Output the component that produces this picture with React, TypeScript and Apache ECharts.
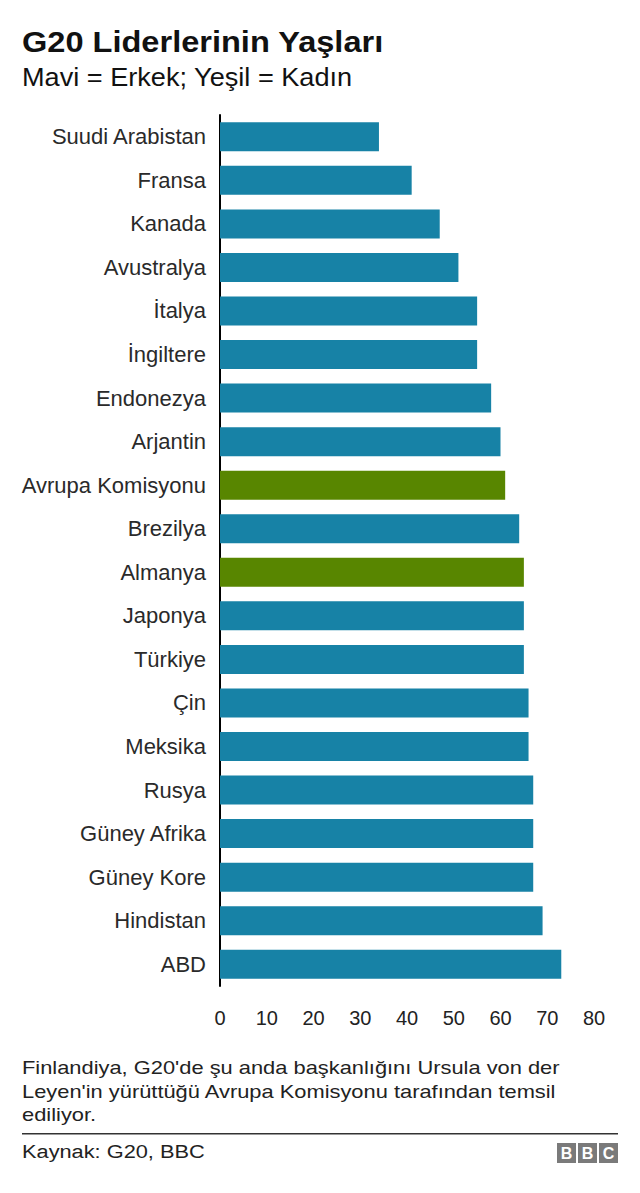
import React, { useEffect, useRef } from "react";
import * as echarts from "echarts";

const categories = [
  "Suudi Arabistan", "Fransa", "Kanada", "Avustralya", "İtalya", "İngiltere",
  "Endonezya", "Arjantin", "Avrupa Komisyonu", "Brezilya", "Almanya", "Japonya",
  "Türkiye", "Çin", "Meksika", "Rusya", "Güney Afrika", "Güney Kore", "Hindistan", "ABD",
];
const ages = [34, 41, 47, 51, 55, 55, 58, 60, 61, 64, 65, 65, 65, 66, 66, 67, 67, 67, 69, 73];
const womenLed = ["Avrupa Komisyonu", "Almanya"];
const xTicks = [0, 80, 10];

const BLUE = "#1782a6";
const GREEN = "#588600";
const FONT = "'Liberation Sans', Arial, Helvetica, sans-serif";

export default function App() {
  const ref = useRef<HTMLDivElement>(null);
  useEffect(() => {
    document.body.style.margin = "0";
    if (!ref.current) return;
    const chart = echarts.init(ref.current, null, { renderer: "svg" });
    const txt = (text: string, x: number, y: number, size: number, sx: number, extra: any = {}) => ({
      type: "text",
      x,
      y,
      scaleX: sx,
      style: {
        text,
        fill: extra.color || "#222222",
        font: `${extra.weight || "normal"} ${size}px ${FONT}`,
        textAlign: "left",
        textVerticalAlign: "middle",
      },
    });
    const bbc = ["B", "B", "C"].flatMap((l, i) => {
      const x0 = 557 + i * 21;
      return [
        { type: "rect", shape: { x: x0, y: 1143, width: 19, height: 20 }, style: { fill: "#7a7a7a" } },
        {
          type: "text",
          x: x0 + 9.5,
          y: 1153.5,
          style: { text: l, fill: "#ffffff", font: `bold 16px ${FONT}`, textAlign: "center", textVerticalAlign: "middle" },
        },
      ];
    });
    chart.setOption({
      animation: false,
      backgroundColor: "#ffffff",
      grid: { left: 220, right: 46, top: 115, bottom: 207, containLabel: false },
      xAxis: {
        type: "value",
        min: xTicks[0],
        max: xTicks[1],
        interval: xTicks[2],
        axisLine: { show: false },
        axisTick: { show: false },
        splitLine: { show: false },
        axisLabel: { color: "#222222", fontSize: 20, fontFamily: FONT, margin: 22 },
      },
      yAxis: {
        type: "category",
        data: categories,
        inverse: true,
        axisLine: { show: true, lineStyle: { color: "#000000", width: 2 } },
        axisTick: { show: false },
        axisLabel: { color: "#2a2a2a", fontSize: 22, fontFamily: FONT, margin: 14 },
      },
      series: [
        {
          type: "bar",
          barWidth: 29,
          data: ages.map((v, i) => ({
            value: v,
            itemStyle: { color: womenLed.includes(categories[i]) ? GREEN : BLUE },
          })),
        },
      ],
      graphic: [
        txt("G20 Liderlerinin Yaşları", 22, 42, 30, 1.085, { weight: "bold", color: "#111111" }),
        txt("Mavi = Erkek; Yeşil = Kadın", 22, 77, 25, 1.085, { color: "#111111" }),
        txt("Finlandiya, G20'de şu anda başkanlığını Ursula von der", 22, 1068, 18, 1.215),
        txt("Leyen'in yürüttüğü Avrupa Komisyonu tarafından temsil", 22, 1091.5, 18, 1.215),
        txt("ediliyor.", 22, 1115, 18, 1.215),
        { type: "rect", shape: { x: 22, y: 1133, width: 596, height: 1.5 }, style: { fill: "#333333" } },
        txt("Kaynak: G20, BBC", 22, 1151.5, 18, 1.21),
        ...bbc,
      ],
    });
    return () => chart.dispose();
  }, []);
  return <div ref={ref} style={{ width: 640, height: 1193 }} />;
}
